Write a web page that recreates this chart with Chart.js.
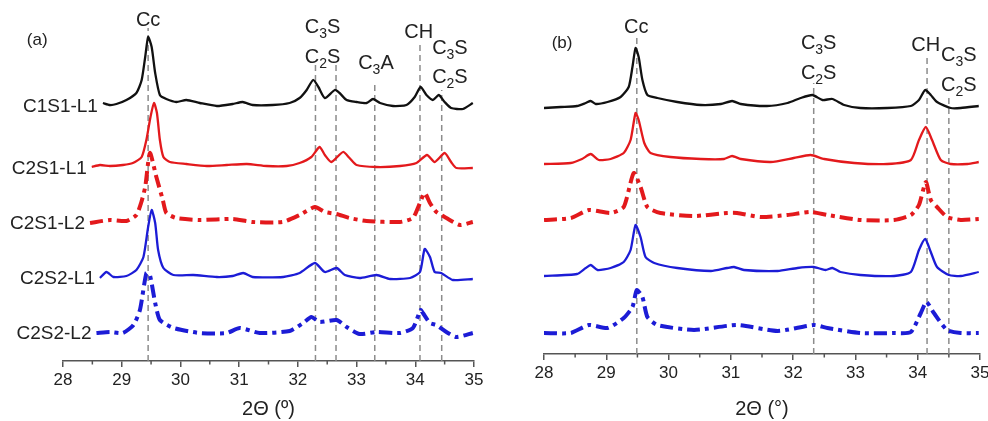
<!DOCTYPE html>
<html>
<head>
<meta charset="utf-8">
<script src="https://cdn.jsdelivr.net/npm/chart.js@4.4.0/dist/chart.umd.min.js"></script>
<style>
  html, body { margin: 0; padding: 0; background: #fff; overflow: hidden; }
  #wrapA { position: absolute; left: 0; top: 0; width: 494px; height: 421px; }
  #wrapB { position: absolute; left: 494px; top: 0; width: 520px; height: 421px; }
</style>
</head>
<body>
<div id="wrapA"><canvas id="chartA" width="494" height="421"></canvas></div>
<div id="wrapB"><canvas id="chartB" width="520" height="421"></canvas></div>
<script>
// sample names, top to bottom
const sampleNames = ['C1S1-L1', 'C2S1-L1', 'C2S1-L2', 'C2S2-L1', 'C2S2-L2'];

// vertical stacking offsets (a.u.)
const offsetsA = [256, 194, 139, 84, 29];
const offsetsB = [247, 191, 134, 79, 21];

// panel (a) patterns: [2theta, intensity above own baseline]
const a_C1S1_L1 = [[28.68,2],[28.80,0],[28.91,1],[29.08,5],[29.25,12],[29.34,25],[29.40,48],[29.45,68],[29.51,58],[29.57,32],[29.65,10],[29.76,6],[29.93,3],[30.10,5],[30.33,2],[30.62,-1],[30.89,1],[31.06,3],[31.23,0],[31.57,0],[31.86,2],[32.03,7],[32.15,15],[32.26,25],[32.35,18],[32.46,7],[32.63,15],[32.71,12],[32.83,5],[33.00,3],[33.17,2],[33.28,6],[33.40,2],[33.62,-1],[33.85,0],[33.99,8],[34.09,18],[34.19,10],[34.30,5],[34.40,10],[34.50,3],[34.61,-3],[34.81,-4],[34.98,2]];
const a_C2S1_L1 = [[28.49,0],[28.63,2],[28.80,1],[29.02,2],[29.19,4],[29.34,10],[29.42,27],[29.49,50],[29.55,64],[29.60,54],[29.65,27],[29.71,10],[29.82,5],[30.10,3],[30.45,1],[30.79,2],[31.13,3],[31.47,1],[31.81,1],[32.03,4],[32.23,10],[32.37,20],[32.46,12],[32.57,5],[32.77,15],[32.88,9],[33.00,2],[33.34,0],[33.74,1],[34.02,4],[34.20,12],[34.33,5],[34.50,14],[34.61,5],[34.70,-1],[34.98,-1]];
const a_C2S1_L2 = [[28.46,-1],[28.80,2],[29.08,1],[29.25,7],[29.33,19],[29.40,35],[29.48,69],[29.59,45],[29.70,22],[29.76,9],[29.93,4],[30.33,2],[30.89,3],[31.23,0],[31.74,0],[32.03,7],[32.29,15],[32.46,10],[32.66,8],[32.88,4],[33.17,1],[33.74,0],[33.96,4],[34.05,15],[34.16,29],[34.25,19],[34.36,10],[34.53,4],[34.76,-3],[34.98,0]];
const a_C2S2_L1 = [[28.63,-1],[28.74,5],[28.86,0],[29.08,1],[29.25,7],[29.37,20],[29.45,50],[29.51,67],[29.57,54],[29.62,27],[29.71,9],[29.88,2],[30.22,2],[30.62,0],[30.89,1],[31.07,4],[31.23,0],[31.75,0],[32.03,4],[32.29,14],[32.46,5],[32.66,9],[32.80,2],[33.05,-1],[33.34,2],[33.57,-2],[33.91,-1],[34.08,5],[34.16,28],[34.25,20],[34.33,5],[34.44,4],[34.64,-3],[34.98,-2]];
const a_C2S2_L2 = [[28.57,-1],[28.80,0],[29.02,-1],[29.20,7],[29.31,22],[29.42,59],[29.48,57],[29.57,29],[29.65,12],[29.88,4],[30.33,-1],[30.79,-1],[31.01,4],[31.35,-1],[31.86,1],[32.09,9],[32.23,15],[32.37,10],[32.66,12],[32.83,5],[33.05,-2],[33.34,0],[33.74,-1],[33.96,4],[34.09,22],[34.13,19],[34.25,9],[34.36,7],[34.53,0],[34.70,-5],[34.98,-1]];

// panel (b) patterns
const b_C1S1_L1 = [[28.00,-1],[28.27,0],[28.53,1],[28.67,4],[28.75,6],[28.83,3],[29.02,5],[29.23,10],[29.36,20],[29.42,40],[29.47,59],[29.52,50],[29.58,27],[29.66,12],[29.82,9],[30.14,5],[30.52,2],[30.84,3],[31.02,6],[31.16,3],[31.58,1],[31.91,4],[32.12,9],[32.31,12],[32.47,7],[32.63,8],[32.82,2],[33.08,-1],[33.51,-1],[33.89,1],[34.02,7],[34.12,17],[34.21,12],[34.31,5],[34.53,-1],[34.69,-1],[34.98,1]];
const b_C2S1_L1 = [[28.00,-1],[28.43,0],[28.61,4],[28.75,9],[28.88,3],[29.07,4],[29.28,10],[29.39,23],[29.47,50],[29.52,43],[29.61,20],[29.71,10],[30.03,6],[30.52,4],[30.89,4],[31.02,7],[31.16,4],[31.64,1],[32.01,5],[32.28,8],[32.50,4],[32.98,0],[33.51,-1],[33.89,3],[34.02,23],[34.13,36],[34.23,23],[34.37,3],[34.53,-1],[34.80,-1],[34.98,1]];
const b_C2S1_L2 = [[28.00,0],[28.43,2],[28.72,10],[29.07,7],[29.28,13],[29.44,47],[29.55,33],[29.66,13],[29.87,7],[30.41,4],[30.94,7],[31.10,7],[31.48,3],[31.91,5],[32.28,8],[32.55,5],[33.08,0],[33.62,0],[33.89,5],[34.02,15],[34.13,38],[34.21,20],[34.31,13],[34.47,3],[34.69,0],[34.98,1]];
const b_C2S2_L1 = [[28.00,-1],[28.53,1],[28.67,7],[28.75,10],[28.86,5],[29.07,7],[29.28,13],[29.39,25],[29.47,50],[29.55,38],[29.63,18],[29.77,12],[30.14,7],[30.68,4],[30.94,7],[31.05,8],[31.21,5],[31.75,4],[32.07,7],[32.33,8],[32.52,5],[32.63,7],[32.76,3],[33.08,0],[33.62,-1],[33.89,3],[34.02,25],[34.12,36],[34.21,23],[34.31,8],[34.50,0],[34.69,-1],[34.98,3]];
const b_C2S2_L2 = [[28.00,0],[28.43,0],[28.72,8],[29.02,5],[29.28,15],[29.42,26],[29.49,43],[29.58,36],[29.66,16],[29.82,8],[30.41,3],[31.10,8],[31.75,2],[32.33,8],[32.55,5],[33.08,0],[33.62,0],[33.89,1],[34.05,20],[34.14,31],[34.26,20],[34.47,3],[34.69,0],[34.98,0]];

// reference peak positions (2theta) and marker line tops
const peaksA = [29.45, 32.30, 32.65, 33.31, 34.08, 34.45];
const peakTopsA = [333, 298, 298, 278, 319, 271];
const peaksB = [29.49, 32.33, 34.15, 34.50];
const peakTopsB = [318, 271, 299, 259];

// phase labels ('_' marks a subscript)
const phaseLabelsA = [
  { text: 'Cc', x: 29.45, y: 341 },
  { text: 'C_3S', x: 32.42, y: 334 },
  { text: 'C_2S', x: 32.42, y: 304 },
  { text: 'C_3A', x: 33.33, y: 298 },
  { text: 'CH', x: 34.06, y: 329 },
  { text: 'C_3S', x: 34.59, y: 313 },
  { text: 'C_2S', x: 34.59, y: 284 }
];
const phaseLabelsB = [
  { text: 'Cc', x: 29.48, y: 327 },
  { text: 'C_3S', x: 32.41, y: 311 },
  { text: 'C_2S', x: 32.41, y: 281 },
  { text: 'CH', x: 34.13, y: 309 },
  { text: 'C_3S', x: 34.66, y: 299 },
  { text: 'C_2S', x: 34.66, y: 269 }
];

const lineStyles = [
  { color: '#111111', width: 2.3, dash: [] },
  { color: '#e3191c', width: 2.3, dash: [] },
  { color: '#e3191c', width: 4, dash: [13, 5, 4, 5] },
  { color: '#1c1cd6', width: 2.3, dash: [] },
  { color: '#1c1cd6', width: 4, dash: [13, 5, 4, 5] }
];

Chart.defaults.font.family = '"Liberation Sans", Arial, sans-serif';
Chart.defaults.color = '#222';

function drawChem(ctx, text, cx, cy, size) {
  const parts = [];
  for (let i = 0; i < text.length; i++) {
    if (text[i] === '_') { parts.push({ t: text[i + 1], sub: true }); i++; }
    else parts.push({ t: text[i], sub: false });
  }
  const big = size + 'px "Liberation Sans", Arial, sans-serif';
  const small = Math.round(size * 0.68) + 'px "Liberation Sans", Arial, sans-serif';
  let total = 0;
  parts.forEach(p => { ctx.font = p.sub ? small : big; p.w = ctx.measureText(p.t).width; total += p.w; });
  let px = cx - total / 2;
  ctx.textAlign = 'left';
  ctx.textBaseline = 'middle';
  parts.forEach(p => {
    ctx.font = p.sub ? small : big;
    ctx.fillText(p.t, px, p.sub ? cy + size * 0.35 : cy);
    px += p.w;
  });
}

function overlay(opts) {
  return {
    id: 'overlay',
    afterDatasetsDraw(chart) {
      const ctx = chart.ctx;
      const x = chart.scales.x, y = chart.scales.y;
      const axisY = chart.chartArea.bottom;
      ctx.save();
      // minor ticks at half degrees
      ctx.strokeStyle = '#555';
      ctx.lineWidth = 1.5;
      for (let v = 28.5; v < 35; v += 1) {
        const px = x.getPixelForValue(v);
        ctx.beginPath();
        ctx.moveTo(px, axisY);
        ctx.lineTo(px, axisY + 3.5);
        ctx.stroke();
      }
      ctx.fillStyle = '#222';
      opts.phaseLabels.forEach(l => drawChem(ctx, l.text, x.getPixelForValue(l.x), y.getPixelForValue(l.y), 20));
      // sample names at the left end of each trace
      if (opts.showNames) {
        ctx.font = '19px "Liberation Sans", Arial, sans-serif';
        ctx.textAlign = 'right';
        ctx.textBaseline = 'middle';
        opts.traces.forEach((tr, i) => {
          ctx.fillText(sampleNames[i], x.getPixelForValue(tr[0][0]) - 5, y.getPixelForValue(opts.offsets[i]) + 2);
        });
      }
      ctx.font = '17px "Liberation Sans", Arial, sans-serif';
      ctx.textAlign = 'center';
      ctx.textBaseline = 'middle';
      ctx.fillText(opts.tag.text, x.getPixelForValue(opts.tag.x), y.getPixelForValue(opts.tag.y));
      ctx.restore();
    }
  };
}

function makePanel(id, opts) {
  const datasets = [];
  opts.traces.forEach((tr, i) => {
    datasets.push({
      data: tr.map(p => ({ x: p[0], y: p[1] + opts.offsets[i] })),
      borderColor: lineStyles[i].color,
      borderWidth: lineStyles[i].width,
      borderDash: lineStyles[i].dash,
      tension: 0.2,
      order: 0
    });
  });
  opts.peaks.forEach((p, i) => {
    datasets.push({
      data: [{ x: p, y: 0 }, { x: p, y: opts.peakTops[i] }],
      borderColor: '#8c8c8c',
      borderWidth: 1.5,
      borderDash: [6, 4],
      order: 1
    });
  });

  new Chart(document.getElementById(id), {
    type: 'line',
    data: { datasets: datasets },
    options: {
      responsive: false,
      animation: false,
      devicePixelRatio: 1,
      layout: { padding: opts.padding },
      elements: { point: { radius: 0 } },
      plugins: { legend: { display: false }, tooltip: { enabled: false } },
      scales: {
        x: {
          type: 'linear',
          min: 28,
          max: 35,
          afterFit: function(s) { s.height = opts.axisHeight; },
          ticks: { stepSize: 1, font: { size: 17 }, color: '#222', padding: 3, maxRotation: 0, autoSkip: false },
          grid: { drawOnChartArea: false, tickLength: 6, color: '#555', lineWidth: 1.5 },
          border: { color: '#555', width: 1.5 },
          title: { display: true, text: opts.title, font: { size: 20 }, color: '#222', padding: { top: 4, bottom: 0 } }
        },
        y: { display: false, min: 0, max: 350 }
      }
    },
    plugins: [overlay(opts)]
  });
}

makePanel('chartA', {
  traces: [a_C1S1_L1, a_C2S1_L1, a_C2S1_L2, a_C2S2_L1, a_C2S2_L2],
  offsets: offsetsA,
  peaks: peaksA,
  peakTops: peakTopsA,
  phaseLabels: phaseLabelsA,
  showNames: true,
  tag: { text: '(a)', x: 27.56, y: 321 },
  title: '2\u0398 (\u00ba)',
  padding: { left: 63, right: 20, top: 11, bottom: 0 },
  axisHeight: 60
});

makePanel('chartB', {
  traces: [b_C1S1_L1, b_C2S1_L1, b_C2S1_L2, b_C2S2_L1, b_C2S2_L2],
  offsets: offsetsB,
  peaks: peaksB,
  peakTops: peakTopsB,
  phaseLabels: phaseLabelsB,
  showNames: false,
  tag: { text: '(b)', x: 28.29, y: 311 },
  title: '2\u0398 (\u00b0)',
  padding: { left: 50, right: 34, top: 4, bottom: 0 },
  axisHeight: 67
});
</script>
</body>
</html>
